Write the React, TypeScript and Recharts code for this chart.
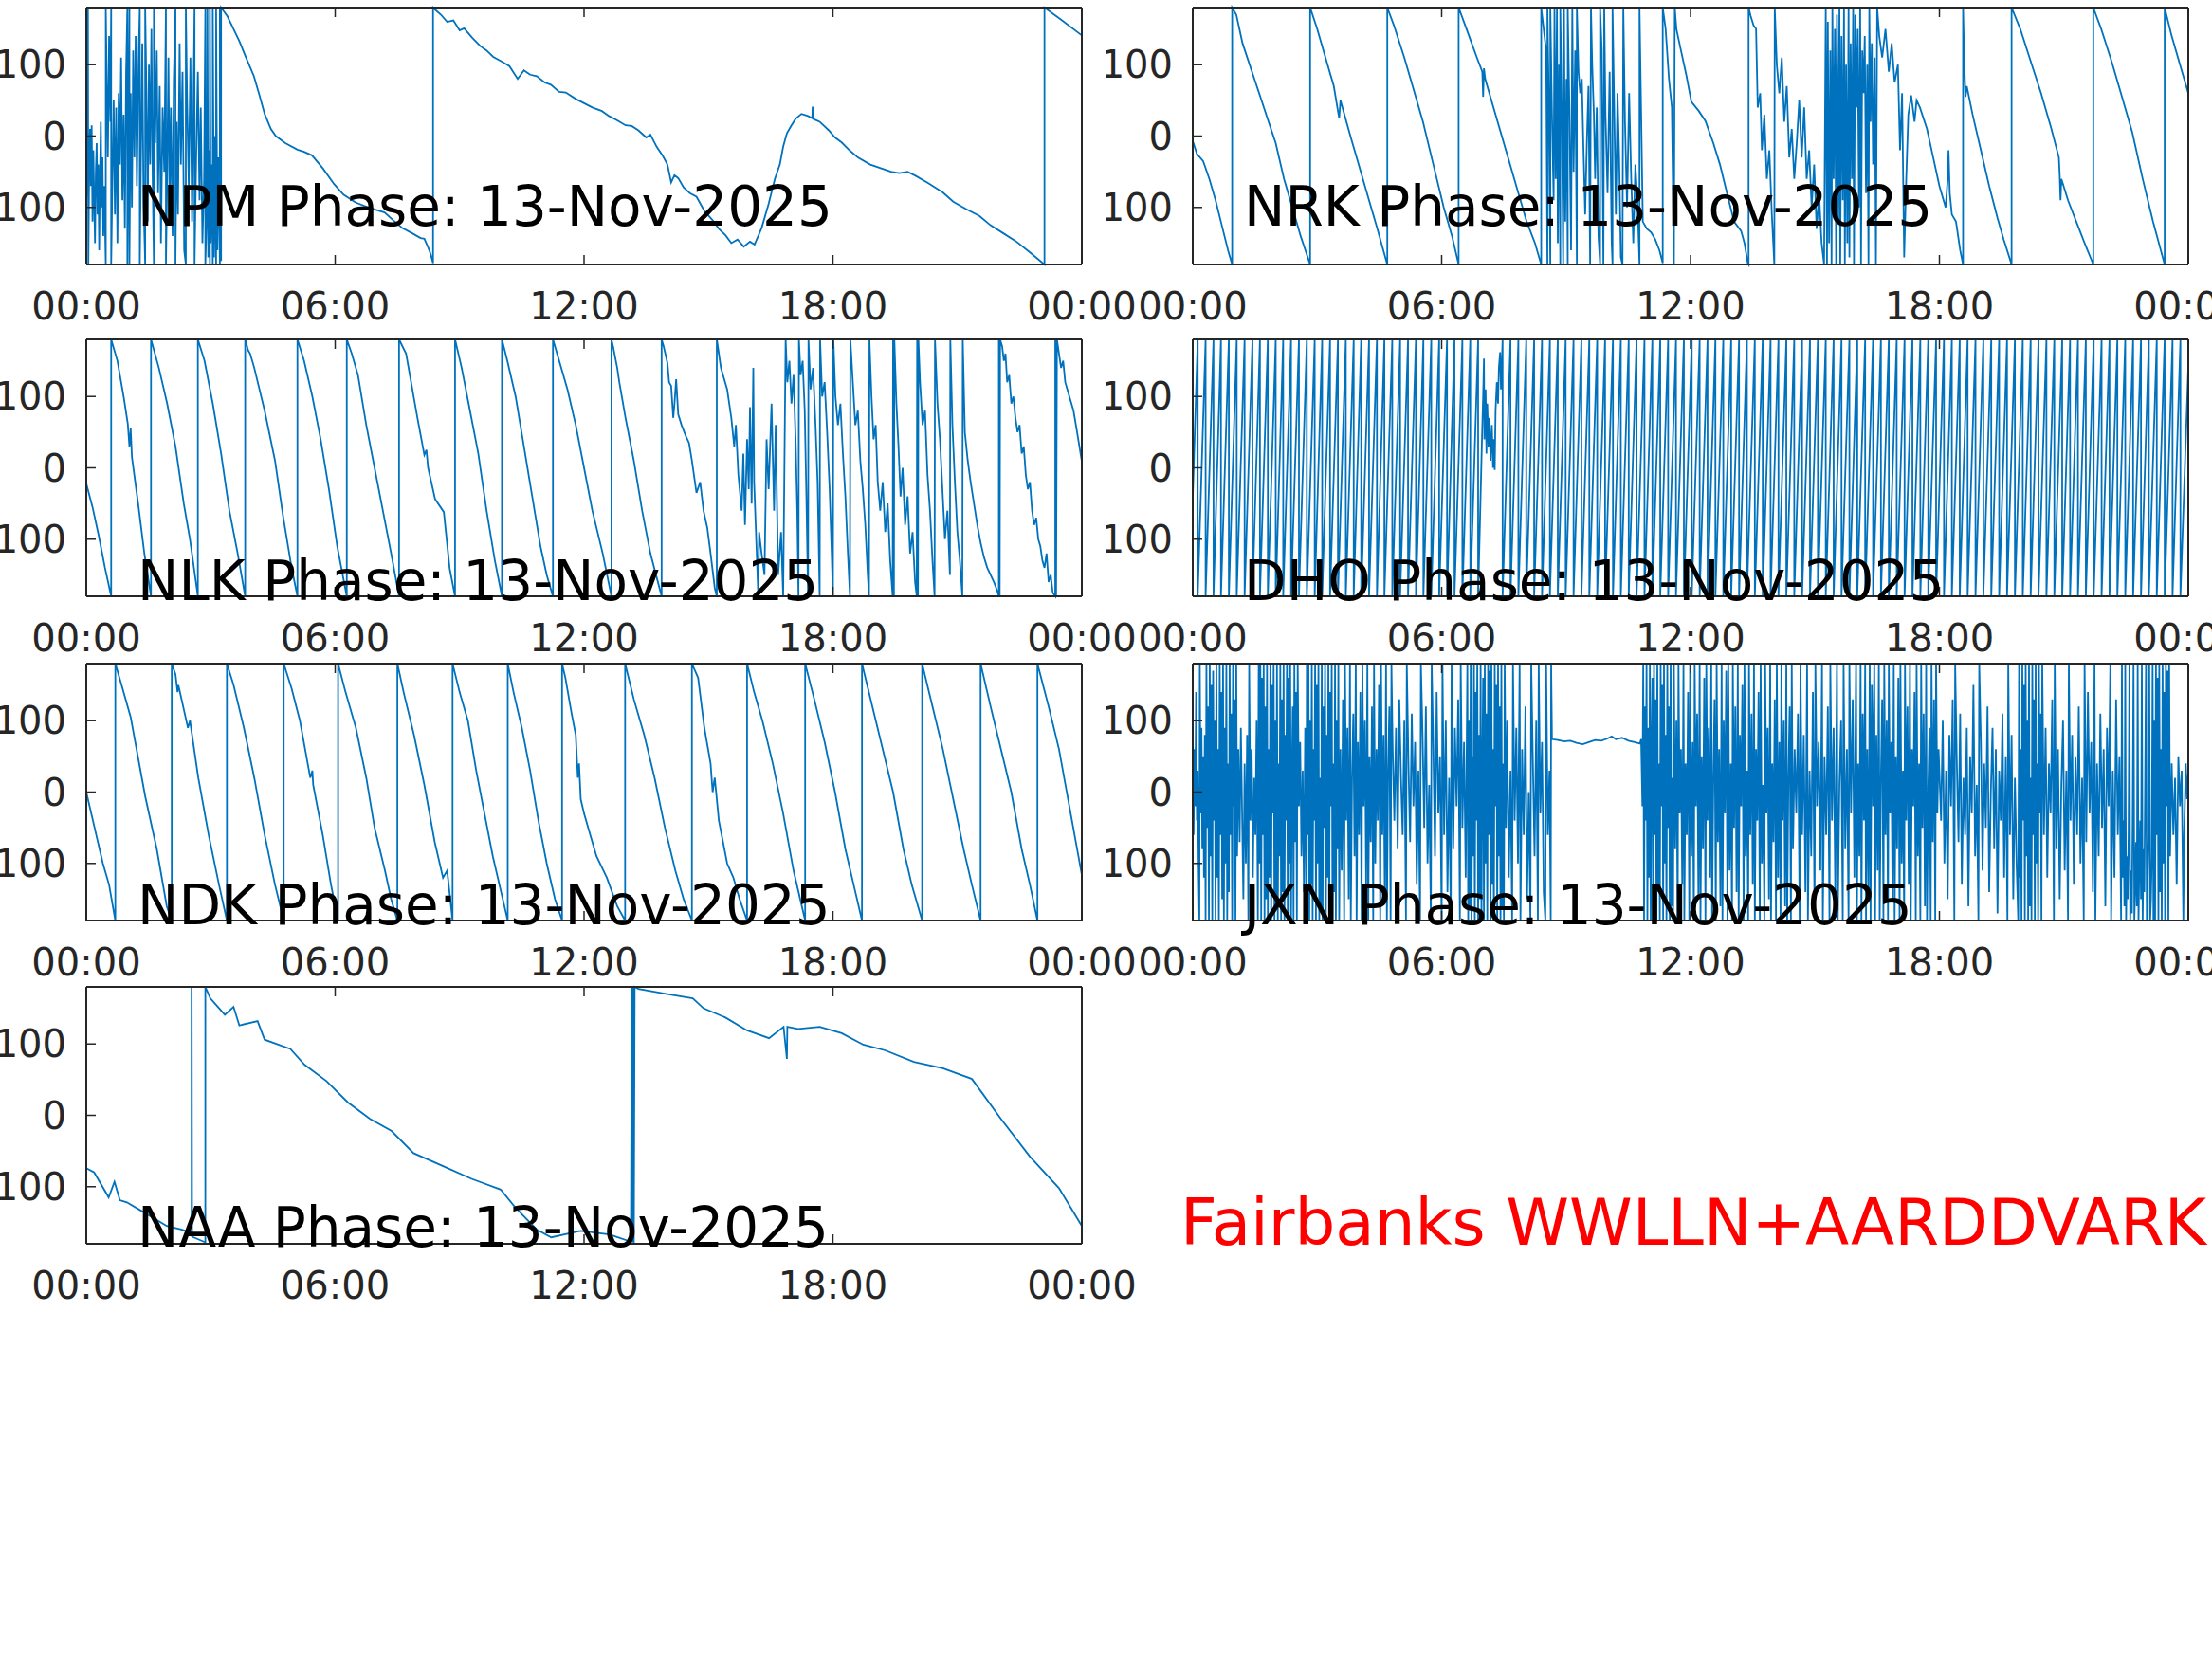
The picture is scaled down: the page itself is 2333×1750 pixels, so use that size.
import React from 'react';
import { LineChart, Line, XAxis, YAxis } from 'recharts';

type Pt = [number, number];

const FONT = '"DejaVu Sans", sans-serif';
const AXIS_COLOR = '#262626';
const LINE_COLOR = '#0072BD';
const TICK = 10;

const hourTicks = [0, 6, 12, 18, 24];
const phaseTicks = [-100, 0, 100];
const dayLabel = '13-Nov-2025';
const stationLabel = 'Fairbanks WWLLN+AARDDVARK';

// phase (deg) vs hour of day
const npmPhase: Pt[] = [
  [0.00,-100],[0.02,-30],[0.04,180],[0.05,-180],[0.07,-40],[0.09,10],[0.11,-70],[0.13,15],[0.15,-120],[0.17,-20],
  [0.19,-90],[0.21,-150],[0.23,-50],[0.25,-10],[0.27,-110],[0.29,-40],[0.31,-160],[0.33,-60],[0.35,20],[0.37,-100],
  [0.39,-30],[0.41,-140],[0.43,-70],[0.45,-120],[0.47,-180],[0.47,180],[0.49,90],[0.52,-30],[0.55,140],[0.58,20],
  [0.60,180],[0.60,-180],[0.63,-60],[0.66,50],[0.69,-110],[0.72,40],[0.75,-150],[0.78,60],[0.81,-40],[0.84,110],
  [0.87,-90],[0.90,30],[0.93,-130],[0.96,90],[0.99,180],[0.99,-180],[1.01,-40],[1.04,180],[1.04,-180],[1.07,60],
  [1.10,-100],[1.13,120],[1.16,-30],[1.19,140],[1.22,-70],[1.26,100],[1.29,180],[1.29,-180],[1.32,-20],[1.35,130],
  [1.38,-90],[1.42,-180],[1.42,180],[1.45,60],[1.48,-120],[1.51,100],[1.54,-40],[1.57,150],[1.60,-60],[1.63,-180],
  [1.63,180],[1.66,-10],[1.70,120],[1.73,-80],[1.77,70],[1.80,-150],[1.84,40],[1.88,-50],[1.92,180],[1.92,-180],
  [1.95,-60],[1.98,110],[2.01,-100],[2.04,40],[2.08,-140],[2.11,80],[2.15,180],[2.15,-180],[2.18,20],[2.21,-110],
  [2.25,130],[2.28,-40],[2.32,90],[2.36,-160],[2.40,-180],[2.40,180],[2.43,50],[2.47,-70],[2.51,110],[2.55,-120],
  [2.58,20],[2.61,180],[2.61,-180],[2.65,-30],[2.69,90],[2.73,-90],[2.76,40],[2.80,-150],[2.84,-60],[2.87,180],
  [2.87,-180],[2.90,-120],[2.92,180],[2.94,-170],[2.96,-20],[2.98,-180],[2.98,180],[3.00,-150],[3.03,-40],[3.05,-180],
  [3.05,180],[3.08,-170],[3.10,0],[3.13,-180],[3.13,180],[3.16,-160],[3.19,-30],[3.22,-180],[3.22,180],[3.25,-175],
  [3.25,180],[3.40,168],[3.55,150],[3.69,133],[3.85,110],[4.04,84],[4.17,58],[4.30,31],[4.45,10],[4.57,0],
  [4.80,-10],[5.09,-19],[5.25,-22],[5.44,-27],[5.70,-45],[5.97,-67],[6.20,-82],[6.49,-93],[6.80,-100],[7.19,-107],
  [7.40,-118],[7.62,-129],[7.85,-136],[8.06,-143],[8.15,-144],[8.24,-156],[8.30,-165],[8.36,-178],[8.36,180],[8.41,177],
  [8.55,170],[8.70,160],[8.85,162],[9.00,148],[9.11,151],[9.30,138],[9.50,126],[9.65,120],[9.81,111],[10.00,105],
  [10.20,98],[10.40,80],[10.55,92],[10.70,86],[10.86,84],[11.05,75],[11.20,72],[11.40,62],[11.56,61],[11.80,52],
  [12.00,46],[12.20,40],[12.43,35],[12.60,28],[12.80,22],[13.00,15],[13.15,14],[13.31,8],[13.50,-2],[13.60,2],
  [13.75,-15],[13.90,-28],[14.01,-40],[14.10,-65],[14.18,-55],[14.27,-59],[14.40,-72],[14.55,-80],[14.71,-85],[14.90,-105],
  [15.10,-118],[15.25,-130],[15.41,-139],[15.55,-150],[15.70,-145],[15.85,-155],[16.00,-148],[16.11,-152],[16.20,-140],[16.28,-129],
  [16.45,-95],[16.60,-60],[16.72,-40],[16.80,-15],[16.89,4],[17.00,15],[17.10,24],[17.24,31],[17.40,28],[17.50,25],
  [17.51,41],[17.52,24],[17.68,20],[17.90,8],[18.05,-2],[18.21,-9],[18.40,-20],[18.60,-30],[18.90,-40],[19.20,-46],
  [19.40,-50],[19.60,-52],[19.80,-50],[20.00,-56],[20.30,-66],[20.65,-79],[20.90,-92],[21.20,-102],[21.53,-112],[21.80,-125],
  [22.10,-136],[22.40,-147],[22.75,-163],[23.10,-180],[23.10,180],[23.50,163],[24.00,141],
];

const nrkPhase: Pt[] = [
  [0,-7],[0.10,-25],[0.25,-35],[0.40,-60],[0.55,-90],[0.70,-125],[0.85,-160],[0.95,-180],[0.95,180],
  [1.05,170],[1.20,130],[1.40,95],[1.60,60],[1.80,25],[2.00,-10],[2.20,-60],[2.40,-100],[2.60,-140],[2.83,-180],[2.83,180],
  [3.00,150],[3.20,110],[3.40,70],[3.50,35],[3.53,25],[3.56,50],[3.80,0],[4.00,-40],[4.20,-80],[4.45,-130],[4.69,-180],[4.69,180],
  [4.85,155],[5.10,110],[5.30,70],[5.55,20],[5.80,-40],[6.05,-100],[6.25,-140],[6.41,-180],[6.41,180],
  [6.60,150],[6.85,110],[6.98,90],[7.00,55],[7.02,95],[7.05,80],[7.30,30],[7.55,-20],[7.80,-70],[8.05,-120],[8.25,-150],[8.40,-180],[8.40,180],
  [8.46,150],[8.52,120],[8.55,-180],[8.55,180],[8.58,60],[8.62,-180],[8.62,180],[8.66,30],[8.70,-90],[8.72,180],
  [8.75,-60],[8.78,180],[8.80,-150],[8.83,100],[8.86,-180],[8.86,180],[8.90,20],[8.93,-180],[8.95,180],[8.98,-120],
  [9.01,80],[9.04,-180],[9.04,180],[9.08,40],[9.12,-160],[9.15,180],[9.18,-50],[9.22,120],[9.26,-180],[9.26,180],
  [9.30,90],[9.34,60],[9.38,80],[9.42,-20],[9.46,-110],[9.50,-10],[9.54,70],[9.58,-180],[9.60,180],[9.63,100],
  [9.67,30],[9.70,-60],[9.74,40],[9.78,-140],[9.82,-180],[9.82,180],[9.86,120],[9.90,-180],[9.92,180],[9.95,30],
  [10.00,-80],[10.05,90],[10.10,-150],[10.12,-180],[10.12,180],[10.16,40],[10.20,-110],[10.24,60],[10.28,-30],[10.32,-170],
  [10.36,-180],[10.38,180],[10.42,20],[10.47,-100],[10.52,60],[10.57,-60],[10.62,-150],[10.67,-40],[10.72,-90],[10.77,-180],
  [10.77,180],[10.85,-120],[10.95,-130],[11.05,-135],[11.15,-145],[11.25,-160],[11.33,-178],[11.33,180],[11.40,150],[11.48,80],
  [11.55,40],[11.60,-180],[11.62,180],[11.66,150],[11.75,125],[11.90,85],[12.02,48],[12.20,35],[12.36,21],[12.55,-10],
  [12.71,-40],[12.90,-85],[13.05,-120],[13.22,-133],[13.30,-150],[13.38,-178],[13.40,-180],[13.40,180],
  [13.45,168],[13.52,155],[13.58,150],[13.62,40],[13.68,60],[13.72,-20],[13.78,30],[13.84,-60],[13.90,-20],[13.96,-110],
  [14.02,-180],[14.03,180],[14.08,100],[14.14,60],[14.20,110],[14.26,20],[14.32,70],[14.38,-30],[14.44,10],[14.50,-60],
  [14.56,-10],[14.62,50],[14.68,-30],[14.74,40],[14.80,-60],[14.86,-20],[14.92,-100],[14.98,-40],[15.04,-130],[15.10,-80],
  [15.16,-150],[15.22,-180],[15.26,180],[15.29,-180],[15.31,160],[15.34,-150],
  [15.37,120],[15.40,-180],[15.42,180],[15.45,-60],[15.48,150],[15.51,-180],[15.53,170],[15.56,-120],[15.59,180],[15.61,-180],
  [15.64,140],[15.67,-90],[15.70,180],[15.72,-180],[15.75,100],[15.78,-150],[15.81,180],[15.83,-170],[15.86,130],[15.89,-60],
  [15.92,180],[15.94,-180],[15.97,170],[16.00,40],[16.03,150],[16.06,-100],[16.09,180],[16.11,-180],[16.14,120],[16.17,60],
  [16.20,140],[16.23,-80],[16.26,100],[16.29,-180],[16.31,180],[16.34,20],[16.37,130],[16.40,-40],[16.44,110],[16.47,-180],
  [16.50,180],[16.55,140],[16.62,110],[16.70,150],[16.78,90],[16.85,130],[16.92,75],[17.00,100],[17.05,-20],[17.10,60],
  [17.15,-170],[17.20,-60],[17.25,30],[17.32,57],[17.40,20],[17.45,50],[17.53,40],[17.70,10],[17.85,-30],[18.00,-70],
  [18.15,-100],[18.20,-60],[18.22,-20],[18.25,-80],[18.30,-110],[18.40,-120],[18.50,-160],[18.57,-180],[18.57,180],[18.60,100],
  [18.63,55],[18.66,70],[18.80,30],[19.00,-20],[19.20,-70],[19.40,-115],[19.55,-145],[19.74,-180],[19.74,180],
  [19.95,150],[20.20,105],[20.45,60],[20.70,10],[20.88,-30],[20.90,-55],[20.92,-90],[20.94,-60],[21.10,-90],[21.30,-120],
  [21.50,-150],[21.71,-180],[21.71,180],[21.90,150],[22.15,105],[22.40,55],[22.65,5],[22.90,-60],[23.15,-120],[23.43,-180],
  [23.43,180],[23.60,140],[23.80,100],[24.00,60],
];

const nlkPhase: Pt[] = [
  [0,-22],[0.15,-55],[0.30,-95],[0.45,-140],[0.60,-180],[0.60,180],
  [0.75,150],[0.90,100],[1.00,62],[1.04,30],[1.07,55],[1.10,15],[1.25,-50],[1.40,-120],[1.56,-180],[1.56,180],
  [1.75,140],[1.95,90],[2.15,30],[2.35,-50],[2.50,-100],[2.69,-180],[2.69,180],
  [2.85,150],[3.05,90],[3.25,20],[3.45,-60],[3.65,-120],[3.83,-180],[3.83,180],
  [3.90,165],[3.95,160],[4.05,140],[4.30,80],[4.55,10],[4.75,-70],[4.95,-140],[5.09,-180],[5.09,180],
  [5.25,150],[5.45,100],[5.65,40],[5.85,-30],[6.05,-110],[6.28,-180],[6.28,180],
  [6.40,160],[6.55,130],[6.75,60],[6.95,0],[7.15,-60],[7.35,-120],[7.54,-180],[7.54,180],
  [7.71,160],[7.98,71],[8.15,18],[8.20,25],[8.24,0],[8.41,-44],[8.62,-62],[8.76,-141],[8.89,-180],[8.89,180],
  [9.05,140],[9.25,80],[9.45,20],[9.65,-60],[9.85,-130],[10.02,-180],[10.02,180],
  [10.15,150],[10.35,100],[10.55,30],[10.75,-40],[10.95,-110],[11.10,-150],[11.25,-180],[11.25,180],
  [11.40,150],[11.60,110],[11.80,60],[12.00,0],[12.20,-60],[12.45,-120],[12.66,-180],[12.66,180],
  [12.70,170],[12.80,140],[12.85,120],[13.00,70],[13.20,10],[13.40,-60],[13.60,-120],[13.87,-180],[13.87,180],
  [13.92,170],[14.01,147],[14.05,120],[14.10,115],[14.15,70],[14.18,90],[14.22,124],[14.27,75],[14.35,60],[14.45,45],
  [14.53,35],[14.60,10],[14.71,-35],[14.80,-20],[14.88,-60],[14.97,-84],[15.05,-120],[15.15,-168],[15.20,-180],[15.20,180],
  [15.30,140],[15.45,110],[15.55,70],[15.62,30],[15.66,60],[15.72,-10],[15.80,-60],[15.84,20],[15.88,-80],[15.93,40],
  [15.97,-30],[16.00,85],[16.04,-50],[16.08,140],[16.10,-20],[16.15,-100],[16.20,-180],[16.22,-90],[16.28,-120],[16.35,-150],
  [16.40,40],[16.45,-30],[16.52,90],[16.58,-60],[16.62,60],[16.68,-150],[16.75,-90],[16.80,-180],[16.86,180],
  [16.90,120],[16.95,150],[17.00,90],[17.05,130],[17.10,40],[17.14,-60],[17.17,-180],[17.18,180],[17.22,130],[17.27,150],
  [17.32,80],[17.36,-40],[17.40,-180],[17.41,180],[17.46,110],[17.52,140],[17.58,60],[17.63,-20],[17.68,-180],[17.69,180],
  [17.74,100],[17.80,120],[17.86,50],[17.92,-30],[17.97,-120],[18.00,-180],[18.01,180],[18.06,100],[18.12,60],[18.18,90],
  [18.24,20],[18.30,-40],[18.36,-120],[18.41,-180],[18.42,180],[18.48,120],[18.54,60],[18.60,80],[18.66,10],[18.72,-30],
  [18.78,-80],[18.84,-150],[18.87,-180],[18.88,180],[18.93,100],[18.98,40],[19.03,60],[19.08,-20],[19.14,-60],[19.20,-20],
  [19.26,-90],[19.32,-50],[19.38,-130],[19.44,-180],[19.45,180],[19.47,-180],[19.48,180],[19.53,90],[19.58,30],[19.63,-40],
  [19.68,0],[19.74,-80],[19.80,-40],[19.86,-120],[19.92,-90],[19.98,-160],[20.02,-180],[20.03,180],[20.05,-180],[20.06,180],
  [20.10,120],[20.16,60],[20.22,80],[20.28,-10],[20.34,-60],[20.40,-130],[20.45,-180],[20.46,180],[20.52,90],[20.58,40],
  [20.64,-30],[20.70,-100],[20.76,-60],[20.82,-150],[20.83,180],[20.88,60],[20.94,-20],[21.00,-90],[21.06,-130],[21.12,-180],
  [21.13,180],[21.18,50],[21.25,10],[21.32,-20],[21.40,-50],
  [21.48,-80],[21.56,-105],[21.64,-125],[21.72,-140],[21.80,-150],[21.88,-160],[21.96,-172],[22.00,-180],[22.00,180],[22.02,-180],
  [22.03,180],[22.08,170],[22.12,150],[22.16,160],[22.20,120],[22.25,130],[22.30,90],[22.35,100],[22.40,70],[22.45,50],
  [22.50,60],[22.55,20],[22.60,30],[22.65,-10],[22.70,-30],[22.75,-20],[22.80,-60],[22.85,-80],[22.90,-70],[22.95,-100],
  [23.00,-110],[23.05,-130],[23.10,-140],[23.15,-120],[23.20,-160],[23.25,-150],[23.30,-175],[23.36,-180],[23.36,180],[23.38,-180],
  [23.40,180],[23.45,160],[23.50,140],[23.55,150],[23.60,120],[23.70,100],[23.80,80],[23.90,45],[24.00,9],
];

const ndkPhase: Pt[] = [
  [0,0],[0.20,-50],[0.40,-100],[0.55,-130],[0.70,-180],[0.70,180],
  [0.85,150],[1.07,105],[1.42,-6],[1.70,-80],[1.94,-160],[2.06,-180],[2.06,180],
  [2.15,165],[2.20,140],[2.22,150],[2.45,90],[2.50,100],[2.70,20],[2.95,-60],[3.20,-130],[3.39,-180],[3.39,180],
  [3.55,150],[3.80,90],[4.05,20],[4.30,-60],[4.55,-130],[4.76,-180],[4.76,180],
  [4.95,145],[5.15,100],[5.40,20],[5.45,30],[5.47,10],[5.70,-60],[5.90,-130],[6.07,-180],[6.07,180],
  [6.25,140],[6.50,90],[6.75,20],[6.95,-50],[7.20,-110],[7.35,-150],[7.50,-180],[7.50,180],
  [7.65,140],[7.90,80],[8.15,10],[8.40,-70],[8.60,-120],[8.70,-110],[8.83,-180],[8.83,180],
  [9.00,140],[9.20,100],[9.40,30],[9.60,-30],[9.80,-90],[10.00,-140],[10.16,-180],[10.16,180],
  [10.30,140],[10.50,90],[10.70,30],[10.90,-40],[11.10,-100],[11.30,-150],[11.47,-180],[11.47,180],
  [11.55,160],[11.70,110],[11.80,80],[11.85,20],[11.88,40],[11.92,-10],[12.00,-30],[12.10,-50],[12.30,-90],[12.55,-120],
  [12.80,-160],[12.99,-180],[12.99,180],
  [13.20,130],[13.45,80],[13.70,20],[13.95,-50],[14.20,-110],[14.40,-150],[14.60,-180],[14.60,180],
  [14.75,160],[14.90,90],[15.05,40],[15.10,0],[15.15,20],[15.25,-40],[15.45,-100],[15.60,-120],[15.75,-150],[15.93,-180],[15.93,180],
  [16.10,140],[16.30,100],[16.55,40],[16.80,-30],[17.05,-110],[17.33,-180],[17.33,180],
  [17.55,130],[17.80,70],[18.05,0],[18.30,-80],[18.50,-130],[18.70,-180],[18.70,180],
  [18.95,120],[19.20,60],[19.45,0],[19.70,-80],[19.90,-130],[20.15,-180],[20.15,180],
  [20.40,120],[20.65,60],[20.90,-10],[21.15,-80],[21.35,-130],[21.56,-180],[21.56,180],
  [21.80,120],[22.05,60],[22.30,0],[22.55,-80],[22.75,-130],[22.93,-180],[22.93,180],
  [23.20,120],[23.45,60],[23.70,-20],[24.00,-116],
];

const naaPhase: Pt[] = [
  [0.00,-74],[0.19,-80],[0.54,-115],[0.68,-93],[0.81,-119],[0.98,-122],[1.42,-137],[1.94,-155],[2.29,-160],[2.50,-164],
  [2.54,-165],[2.54,180],[2.55,-170],[2.87,-178],[2.87,180],[2.99,164],[3.34,141],[3.55,152],[3.69,126],[4.13,132],
  [4.30,106],[4.92,93],[5.26,71],[5.79,48],[6.31,18],[6.84,-5],[7.36,-22],[7.89,-53],[8.59,-71],[9.29,-89],
  [9.99,-104],[10.34,-129],[10.86,-160],[11.21,-171],[11.91,-162],[12.61,-167],[13.13,-177],[13.15,180],[13.16,-178],[13.18,179],
  [13.20,-179],[13.22,180],[13.31,177],[14.01,170],[14.62,164],[14.88,150],[15.41,137],[15.93,119],[16.46,108],[16.81,124],
  [16.89,79],[16.90,124],[17.16,121],[17.68,124],[18.21,115],[18.73,99],[19.26,91],[19.95,75],[20.65,66],[21.35,51],
  [22.05,-5],[22.75,-58],[23.45,-102],[24.00,-155],
];

const jxnPhase: Pt[] = [
  [0.00,20],[0.02,-60],[0.04,60],[0.06,-20],[0.08,140],[0.10,-40],[0.12,30],[0.14,-100],[0.16,-180],[0.17,180],
  [0.19,-30],[0.21,90],[0.23,-80],[0.25,50],[0.27,-120],[0.29,80],[0.31,-180],[0.33,180],[0.35,-50],
  [0.37,120],[0.39,-180],[0.41,180],[0.43,-90],[0.45,150],[0.47,-180],[0.49,170],[0.51,-40],[0.53,100],[0.55,-180],
  [0.57,180],[0.59,-120],[0.61,60],[0.63,-180],[0.65,180],[0.67,-60],[0.69,140],[0.71,-150],[0.73,180],[0.75,-180],
  [0.77,90],[0.79,-100],[0.81,180],[0.83,-180],[0.85,40],[0.87,-140],[0.89,180],[0.91,-60],[0.93,110],[0.95,-180],
  [0.97,180],[0.99,-20],[1.01,130],[1.03,-180],[1.05,180],[1.07,-90],
  [1.10,60],[1.13,-70],[1.16,90],[1.19,-30],[1.22,-150],[1.25,40],[1.28,-100],[1.31,80],[1.34,-180],[1.36,180],
  [1.39,-40],[1.42,60],[1.45,-120],[1.48,20],[1.51,-60],[1.54,100],[1.57,-180],[1.59,180],
  [1.61,-100],[1.63,180],[1.65,-180],[1.67,160],[1.69,-60],[1.71,180],[1.73,-180],[1.75,120],[1.77,-150],[1.79,180],
  [1.81,-180],[1.83,60],[1.85,-120],[1.87,180],[1.89,-180],[1.91,150],[1.93,-30],[1.95,180],[1.97,-180],[1.99,100],
  [2.01,-160],[2.03,180],[2.05,-180],[2.07,40],[2.09,-90],[2.11,180],[2.13,-180],[2.15,130],[2.17,-140],[2.19,180],
  [2.21,-180],[2.23,80],[2.25,-40],[2.27,180],[2.29,-180],[2.31,160],[2.33,-100],[2.35,180],[2.37,-180],[2.39,20],
  [2.41,120],[2.43,-180],[2.45,180],[2.47,-70],[2.49,140],[2.51,-180],[2.53,180],
  [2.56,-20],[2.59,70],[2.62,-90],[2.65,30],[2.68,-140],[2.71,90],[2.74,-180],[2.75,180],
  [2.77,-60],[2.79,180],[2.81,-180],[2.83,100],[2.85,-130],[2.87,180],[2.89,-180],[2.91,60],[2.93,-40],[2.95,180],
  [2.97,-180],[2.99,150],[3.01,-100],[3.03,180],[3.05,-180],[3.07,20],[3.09,-160],[3.11,180],[3.13,-180],[3.15,120],
  [3.17,-50],[3.19,180],[3.21,-180],[3.23,80],[3.25,-120],[3.27,180],[3.29,-180],[3.31,140],[3.33,-20],[3.35,180],
  [3.37,-180],[3.39,40],[3.41,-140],[3.43,180],[3.45,-180],[3.47,100],[3.49,-80],[3.51,180],[3.53,-180],[3.56,60],
  [3.59,-110],[3.62,130],[3.65,-180],[3.67,180],[3.70,-40],[3.73,90],[3.76,-150],[3.79,180],[3.81,-180],[3.84,20],
  [3.87,110],[3.90,-90],[3.93,180],[3.95,-180],[3.98,70],[4.01,-60],[4.04,140],[4.07,-180],[4.09,180],[4.12,-20],
  [4.15,100],[4.18,-130],[4.21,180],[4.23,-180],[4.26,50],[4.29,-70],[4.32,120],[4.35,-180],[4.37,180],[4.40,-100],
  [4.43,60],[4.46,-40],[4.49,150],[4.52,-180],[4.54,180],[4.57,-60],[4.60,80],[4.63,-150],[4.66,180],[4.68,-180],
  [4.71,30],[4.74,120],[4.77,-180],[4.79,180],
  [4.82,60],[4.86,-40],[4.90,90],[4.94,-80],[4.98,130],[5.02,20],[5.06,-60],[5.10,100],[5.14,-180],[5.16,180],
  [5.20,40],[5.24,-70],[5.28,110],[5.32,-20],[5.36,70],[5.40,-130],[5.44,30],[5.48,-180],[5.50,180],[5.54,80],
  [5.58,-50],[5.62,120],[5.66,-100],[5.70,10],[5.74,-180],[5.76,180],[5.80,60],[5.84,-90],[5.88,140],[5.92,-30],
  [5.96,50],[6.00,-180],[6.02,180],[6.06,-60],[6.10,100],[6.14,-140],[6.18,20],[6.22,-180],[6.24,180],[6.28,-80],
  [6.32,90],[6.36,-20],[6.40,130],[6.44,-180],[6.46,180],[6.50,-50],[6.54,70],[6.58,-120],
  [6.62,180],[6.64,-180],[6.66,100],[6.68,-160],[6.70,180],[6.72,-180],[6.74,50],[6.76,-90],[6.78,180],[6.80,-180],
  [6.82,140],[6.84,-40],[6.86,180],[6.88,-180],[6.90,80],[6.92,-150],[6.94,180],[6.96,-180],[6.98,20],[7.00,160],
  [7.02,-180],[7.04,180],[7.06,-100],[7.08,110],[7.10,-180],[7.12,180],[7.14,-60],[7.16,170],[7.18,-180],[7.20,180],
  [7.22,-130],[7.24,60],[7.26,-180],[7.28,180],[7.30,-20],[7.32,150],[7.34,-180],[7.36,180],[7.38,-90],[7.40,120],
  [7.42,-180],[7.44,180],[7.46,-160],[7.48,40],[7.50,-180],[7.52,180],[7.55,-50],[7.58,100],
  [7.62,-120],[7.66,30],[7.70,-180],[7.72,180],[7.76,-40],[7.80,90],[7.84,-100],[7.88,180],[7.90,-180],[7.94,60],
  [7.98,-60],[8.02,120],[8.06,-150],[8.10,0],[8.14,-180],[8.16,180],[8.20,40],[8.24,-90],[8.28,100],[8.32,-180],
  [8.34,180],[8.38,-30],[8.42,70],[8.46,-140],[8.50,-180],[8.52,180],[8.56,-60],[8.60,30],[8.63,-180],[8.64,180],
  [8.66,74],[8.80,73],[8.95,71],[9.10,72],[9.25,69],[9.40,67],[9.55,70],[9.70,73],[9.85,72],[10.00,75],
  [10.10,78],[10.20,74],[10.35,76],[10.50,72],[10.65,70],[10.78,68],[10.81,74],
  [10.84,-20],[10.86,180],[10.88,-180],[10.90,120],[10.92,-40],[10.94,180],[10.96,-180],[10.98,90],[11.00,-120],[11.02,180],
  [11.04,-180],[11.06,60],[11.08,160],[11.10,-180],[11.12,180],[11.14,-60],[11.16,130],[11.18,-180],[11.20,180],[11.22,-140],
  [11.24,40],[11.26,-180],[11.28,180],[11.30,-20],[11.32,150],[11.34,-180],[11.36,180],[11.38,-100],[11.40,80],[11.42,-180],
  [11.44,180],[11.46,-50],[11.48,120],[11.50,-180],[11.52,180],[11.54,-160],[11.56,20],[11.58,-180],[11.60,180],[11.63,-80],
  [11.66,100],[11.69,-180],[11.71,180],[11.74,-30],[11.77,60],[11.80,-130],[11.83,180],[11.85,-180],[11.88,40],[11.91,-60],
  [11.94,140],[11.97,-180],[11.99,180],
  [12.02,-90],[12.05,70],[12.08,-180],[12.10,180],[12.13,-20],[12.16,110],[12.19,-150],[12.22,180],[12.24,-180],[12.27,50],
  [12.30,-80],[12.33,160],[12.36,-180],[12.38,180],[12.41,-40],[12.44,90],[12.47,-120],[12.50,180],[12.52,-180],[12.55,20],
  [12.58,130],[12.61,-180],[12.63,180],[12.66,-70],[12.69,60],[12.72,-160],[12.75,180],[12.77,-180],[12.80,100],[12.83,-30],
  [12.86,170],[12.89,-180],[12.91,180],[12.94,-110],[12.97,40],[13.00,-180],[13.02,180],[13.05,-50],[13.08,120],[13.11,-140],
  [13.14,180],[13.16,-180],[13.19,80],[13.22,-20],[13.25,150],[13.28,-180],[13.30,180],[13.33,-90],[13.36,30],[13.39,-180],
  [13.41,180],[13.44,-60],[13.47,110],[13.50,-130],[13.53,180],[13.55,-180],[13.58,60],[13.61,-40],[13.64,140],[13.67,-180],
  [13.69,180],[13.72,-100],[13.75,10],[13.78,-180],[13.80,180],[13.83,-30],[13.86,90],[13.89,-150],[13.92,180],[13.94,-180],
  [13.97,40],[14.00,-70],[14.03,130],[14.06,-180],[14.08,180],[14.11,-120],[14.14,70],[14.17,-180],[14.19,180],[14.22,-40],
  [14.25,100],[14.28,-160],[14.31,180],[14.33,-180],[14.36,20],[14.39,120],[14.42,-180],[14.44,180],[14.47,-80],
  [14.51,60],[14.55,-30],[14.59,110],[14.63,-180],[14.65,180],[14.69,-60],[14.73,80],[14.77,-140],[14.81,180],[14.83,-180],
  [14.87,30],[14.91,-90],[14.95,140],[14.99,-180],[15.01,180],[15.05,-20],[15.09,70],[15.13,-110],[15.17,180],[15.19,-180],
  [15.23,50],[15.27,-60],[15.31,120],[15.35,-180],[15.37,180],[15.41,-40],[15.45,90],[15.49,-150],[15.53,180],[15.55,-180],
  [15.59,10],[15.63,100],[15.67,-180],[15.69,180],[15.73,-80],[15.77,60],[15.81,-180],[15.83,180],[15.87,-30],[15.91,130],
  [15.95,-120],[15.99,180],
  [16.01,-180],[16.04,40],[16.07,-90],[16.10,180],[16.12,-180],[16.15,110],[16.18,-40],[16.21,180],[16.23,-180],[16.26,60],
  [16.29,-140],[16.32,180],[16.34,-180],[16.37,150],[16.40,-20],[16.43,180],[16.45,-180],[16.48,80],[16.51,-110],[16.54,180],
  [16.56,-180],[16.59,20],[16.62,130],[16.65,-180],[16.67,180],[16.70,-60],[16.73,100],[16.76,-180],[16.78,180],[16.81,-30],
  [16.84,70],[16.87,-150],[16.90,180],[16.92,-180],[16.95,50],[16.98,-80],[17.01,160],[17.04,-180],[17.06,180],[17.09,-100],
  [17.12,30],[17.15,-180],[17.17,180],[17.20,-40],[17.23,120],[17.26,-130],[17.29,180],[17.31,-180],[17.34,60],[17.37,-20],
  [17.40,140],[17.43,-180],[17.45,180],[17.48,-90],[17.51,40],[17.54,-180],[17.56,180],[17.59,-50],[17.62,110],[17.65,-160],
  [17.68,180],[17.70,-180],[17.73,0],[17.76,90],[17.79,-180],[17.81,180],[17.84,-70],[17.87,130],[17.90,-180],[17.92,180],
  [17.95,-30],[17.98,60],
  [18.04,-40],[18.08,100],[18.12,-100],[18.16,30],[18.20,-150],[18.24,80],[18.28,-20],[18.32,130],[18.36,-180],[18.38,180],
  [18.42,40],[18.46,-70],[18.50,110],[18.54,-130],[18.58,20],[18.62,-60],[18.66,90],[18.70,-160],[18.74,50],[18.78,-30],
  [18.82,150],[18.86,-90],[18.90,10],[18.94,-180],[18.96,180],[19.00,70],[19.04,-110],[19.08,40],[19.12,-50],[19.16,120],
  [19.20,-140],[19.24,0],[19.28,90],[19.32,-80],[19.36,60],[19.40,-170],[19.44,30],[19.48,-40],[19.52,110],[19.56,-120],
  [19.60,50],[19.64,-180],[19.66,180],[19.70,-60],[19.74,80],[19.78,-150],[19.82,20],[19.86,-100],
  [19.90,-180],[19.92,180],[19.94,-120],[19.96,60],[19.98,-180],[20.00,180],[20.02,-40],[20.04,150],[20.06,-180],[20.08,180],
  [20.10,-90],[20.12,100],[20.14,-180],[20.16,180],[20.18,-160],[20.20,20],[20.22,-180],[20.24,180],[20.26,-60],[20.28,130],
  [20.30,-180],[20.32,180],[20.34,-100],[20.36,40],[20.38,-180],[20.40,180],[20.42,-30],[20.44,110],[20.46,-180],[20.48,180],
  [20.52,-60],[20.56,90],[20.60,-120],[20.64,40],[20.68,-30],[20.72,130],[20.76,-180],[20.78,180],[20.82,-80],[20.86,60],
  [20.90,-150],[20.94,10],[20.98,100],[21.02,-110],[21.06,30],[21.10,-180],[21.12,180],[21.16,-40],[21.20,80],[21.24,-130],
  [21.28,50],[21.32,-60],[21.36,120],[21.40,-100],[21.44,20],[21.48,-180],[21.50,180],[21.54,-70],[21.58,140],[21.62,-30],
  [21.66,70],[21.70,-140],[21.74,180],[21.76,-180],[21.80,40],[21.84,-90],[21.88,110],[21.92,-50],[21.96,60],[22.00,-160],
  [22.04,90],[22.08,-20],[22.12,180],[22.14,-180],[22.18,30],[22.22,-120],[22.26,130],[22.30,-60],[22.34,50],
  [22.38,-180],[22.40,180],[22.42,-120],[22.44,-40],[22.46,-160],[22.48,180],[22.50,-180],[22.52,-90],[22.54,-150],[22.56,-60],
  [22.58,180],[22.60,-180],[22.62,-110],[22.64,-170],[22.66,-30],[22.68,180],[22.70,-180],[22.72,-130],[22.74,-70],[22.76,-160],
  [22.78,180],[22.80,-180],[22.82,-100],[22.84,-40],[22.86,-150],[22.88,180],[22.90,-180],[22.92,-80],[22.94,-140],[22.96,20],
  [22.98,180],[23.00,-180],[23.02,-120],[23.04,-60],[23.06,180],[23.08,-180],[23.10,-150],[23.12,-90],[23.14,180],[23.16,-180],
  [23.18,100],[23.20,-180],[23.22,180],[23.24,-60],[23.26,160],[23.28,-180],[23.30,180],[23.32,-140],[23.34,60],[23.36,-180],
  [23.38,180],[23.40,-100],[23.42,140],[23.44,-180],[23.46,180],[23.48,-20],[23.50,170],[23.52,-180],[23.54,180],[23.56,-90],
  [23.60,40],[23.64,-60],[23.68,20],[23.72,-130],[23.76,50],[23.80,-20],[23.84,30],[23.88,-180],[23.90,-60],[23.94,40],
  [23.97,-10],[24.00,30],
];

// DHO wraps every ~11 min (rising phase), with a short dropout after 06:50
const dhoStart: Pt = [0, -40];
const dhoWrapsBefore = [
  0.12,0.31,0.50,0.68,0.87,1.06,1.25,1.44,1.62,1.81,2.00,2.18,2.37,2.56,2.75,2.94,3.12,3.31,3.50,3.69,
  3.88,4.06,4.25,4.44,4.62,4.81,5.00,5.19,5.38,5.56,5.75,5.94,6.13,6.31,6.50,6.69,6.88,
];
const dhoDropout: Pt[] = [
  [6.98,58],[7.00,100],[7.02,153],[7.03,40],[7.06,110],[7.08,20],[7.10,90],[7.13,30],[7.15,70],[7.18,10],
  [7.21,60],[7.24,0],[7.26,40],[7.28,-3],[7.30,80],[7.33,120],[7.36,90],[7.38,140],[7.41,162],[7.43,110],
];
const dhoWrapsAfter = [
  7.47,7.66,7.85,8.04,8.23,8.42,8.61,8.80,8.99,9.18,9.37,9.56,9.75,9.94,10.13,10.32,10.51,10.70,10.89,11.08,
  11.27,11.46,11.65,11.84,12.03,12.22,12.41,12.60,12.79,12.98,13.17,13.36,13.55,13.74,13.93,14.12,14.31,14.50,14.69,14.88,
  15.07,15.26,15.45,15.64,15.83,16.02,16.21,16.40,16.59,16.78,16.97,17.16,17.35,17.54,17.73,17.92,18.11,18.30,18.49,18.68,
  18.87,19.06,19.25,19.44,19.63,19.82,20.01,20.20,20.39,20.58,20.77,20.96,21.15,21.34,21.53,21.72,21.91,22.10,22.29,22.48,
  22.67,22.86,23.05,23.24,23.43,23.62,23.81,
];
const dhoEnd: Pt = [24, 140];

const wrapsUp = (ws: number[]): Pt[] => ws.flatMap((w) => [[w, 180], [w, -180]] as Pt[]);
const dhoPhase: Pt[] = [dhoStart, ...wrapsUp(dhoWrapsBefore), ...dhoDropout, ...wrapsUp(dhoWrapsAfter), dhoEnd];

const panels = [
  { station: 'NPM', data: npmPhase, left: 0, top: 8, titleY: 238 },
  { station: 'NRK', data: nrkPhase, left: 1167, top: 8, titleY: 238 },
  { station: 'NLK', data: nlkPhase, left: 0, top: 358, titleY: 633 },
  { station: 'DHO', data: dhoPhase, left: 1167, top: 358, titleY: 633 },
  { station: 'NDK', data: ndkPhase, left: 0, top: 700, titleY: 975 },
  { station: 'JXN', data: jxnPhase, left: 1167, top: 700, titleY: 975 },
  { station: 'NAA', data: naaPhase, left: 0, top: 1041, titleY: 1315 },
];

const hourLabel = (h: number) => `${String(h % 24).padStart(2, '0')}:00`;

function BottomTick(props: any) {
  const { x, y, payload } = props;
  return (
    <g>
      <line x1={x} x2={x} y1={y} y2={y - TICK} stroke={AXIS_COLOR} strokeWidth={1.5} />
      <text x={x} y={y + 58} textAnchor="middle" fontSize={40} fontFamily={FONT} fill={AXIS_COLOR}>
        {hourLabel(payload.value)}
      </text>
    </g>
  );
}

function TopTick(props: any) {
  const { x, y } = props;
  return <line x1={x} x2={x} y1={y} y2={y + TICK} stroke={AXIS_COLOR} strokeWidth={1.5} />;
}

function LeftTick(props: any) {
  const { x, y, payload } = props;
  return (
    <g>
      <line x1={x} x2={x + TICK} y1={y} y2={y} stroke={AXIS_COLOR} strokeWidth={1.5} />
      <text x={x - 21} y={y + 14} textAnchor="end" fontSize={40} fontFamily={FONT} fill={AXIS_COLOR}>
        {String(payload.value)}
      </text>
    </g>
  );
}

function RightTick(props: any) {
  const { x, y } = props;
  return <line x1={x} x2={x - TICK} y1={y} y2={y} stroke={AXIS_COLOR} strokeWidth={1.5} />;
}

function PhasePanel({ data, left, top }: { data: Pt[]; left: number; top: number }) {
  const rows = data.map(([t, v]) => ({ t, v }));
  const axisLine = { stroke: AXIS_COLOR, strokeWidth: 2 };
  return (
    <div style={{ position: 'absolute', left, top: top - 20 }}>
      <LineChart width={1211} height={371} data={rows} margin={{ top: 0, right: 60, bottom: 0, left: 0 }}>
        <XAxis dataKey="t" type="number" domain={[0, 24]} ticks={hourTicks} interval={0} height={80}
          tickSize={0} tickMargin={0} tickLine={false} axisLine={axisLine} tick={(p: any) => <BottomTick {...p} />} />
        <XAxis xAxisId="top" dataKey="t" orientation="top" type="number" domain={[0, 24]} ticks={hourTicks} interval={0}
          height={20} tickSize={0} tickMargin={0} tickLine={false} axisLine={axisLine} tick={(p: any) => <TopTick {...p} />} />
        <YAxis type="number" domain={[-180, 180]} ticks={phaseTicks} interval={0} width={91}
          tickSize={0} tickMargin={0} tickLine={false} axisLine={axisLine} tick={(p: any) => <LeftTick {...p} />} />
        <YAxis yAxisId="right" orientation="right" type="number" domain={[-180, 180]} ticks={phaseTicks} interval={0}
          width={10} tickSize={0} tickMargin={0} tickLine={false} axisLine={axisLine} tick={(p: any) => <RightTick {...p} />} />
        <Line dataKey="v" type="linear" stroke={LINE_COLOR} strokeWidth={1.8} dot={false} isAnimationActive={false} />
      </LineChart>
    </div>
  );
}

export default function App() {
  return (
    <div style={{ position: 'absolute', left: 0, top: 0, width: 2333, height: 1750, overflow: 'hidden', background: '#fff' }}>
      {panels.map((p) => (
        <PhasePanel key={p.station} data={p.data} left={p.left} top={p.top} />
      ))}
      <svg width={2333} height={1750} style={{ position: 'absolute', left: 0, top: 0, pointerEvents: 'none' }}>
        {panels.map((p) => (
          <text key={p.station} x={p.left === 0 ? 145 : 1312} y={p.titleY} fontSize={58} fontFamily={FONT} fill="#000">
            {`${p.station} Phase: ${dayLabel}`}
          </text>
        ))}
        <text x={1245} y={1313} fontSize={67.5} fontFamily={FONT} fill="#ff0000">{stationLabel}</text>
      </svg>
    </div>
  );
}
